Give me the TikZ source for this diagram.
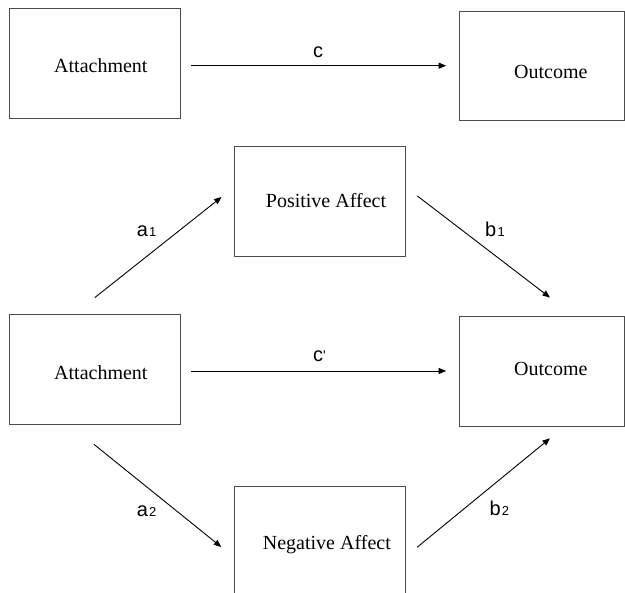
\documentclass[tikz,border=0pt]{standalone}
\usepackage{fontspec}
\setmainfont{Liberation Serif}
\newfontfamily\lblfont{Liberation Sans}
\usetikzlibrary{arrows.meta,calc}
\tikzset{
  box/.style={draw=black!70, line width=0.8pt, inner sep=0pt, fill=none},
  boxtext/.style={anchor=base west, inner sep=0pt, font=\fontsize{20}{24}\selectfont},
  lbl/.style={anchor=base west, inner sep=0pt, font=\lblfont\fontsize{20}{24}\selectfont},
  arr/.style={line width=0.9pt, black, -{Triangle[length=7.5pt,width=6pt]}}
}
\newcommand{\subnum}[1]{{\fontsize{13}{13}\selectfont\kern1.2pt #1}}
\begin{document}
\begin{tikzpicture}[x=1pt,y=-1pt]
\useasboundingbox (0,0) rectangle (625,593);
\begin{scope}
\clip (0,0) rectangle (625,593);
% boxes
\node[box, minimum width=170.4pt, minimum height=109.6pt] (att1) at (94.8,63.5) {};
\node[box, minimum width=164.5pt, minimum height=109pt] (out1) at (541.8,66.2) {};
\node[box, minimum width=171pt, minimum height=109.3pt] (pos) at (319.5,201.3) {};
\node[box, minimum width=170.4pt, minimum height=110pt] (att2) at (94.8,369) {};
\node[box, minimum width=164.5pt, minimum height=109.3pt] (out2) at (541.8,371.3) {};
\node[box, minimum width=171pt, minimum height=109.3pt] (neg) at (319.5,541.3) {};
\end{scope}
% box texts
\node[boxtext] (att1t) at (54,73) {Attachment};
\node[boxtext] (out1t) at (514,78.5) {Outcome};
\node[boxtext] (post) at (265.7,208) {Positive Affect};
\node[boxtext] (att2t) at (54,379.5) {Attachment};
\node[boxtext] (out2t) at (514,375.5) {Outcome};
\node[boxtext] (negt) at (262.7,550) {Negative Affect};
% connectors
\draw[arr] ($(att1.east)+(11,2.2)$) -- ($(out1.west)+(-13,-0.5)$);
\draw[arr] ($(att2.east)+(11,2)$) -- ($(out2.west)+(-13,-0.3)$);
\draw[arr] ($(att2.north)+(0,-16)$) -- ($(pos.west)+(-12,-4.3)$);
\draw[arr] ($(pos.east)+(12,-5.3)$) -- ($(out2.north)+(8.2,-18.7)$);
\draw[arr] ($(att2.south)+(-0.8,20)$) -- ($(neg.west)+(-12.3,5.7)$);
\draw[arr] ($(neg.east)+(11.7,6)$) -- ($(out2.south)+(8.2,12)$);
% labels
\node[lbl, anchor=base] (lc) at (318,58) {c};
\node[lbl] (lcp) at (313,362) {c{\fontsize{14}{14}\selectfont\raisebox{1.5pt}{\textquotesingle}}};
\node[lbl] (la1) at (136.7,236.7) {a\subnum{1}};
\node[lbl] (lb1) at (485,237) {b\subnum{1}};
\node[lbl] (la2) at (136.7,516.7) {a\subnum{2}};
\node[lbl] (lb2) at (489.3,516) {b\subnum{2}};
\end{tikzpicture}
\end{document}
